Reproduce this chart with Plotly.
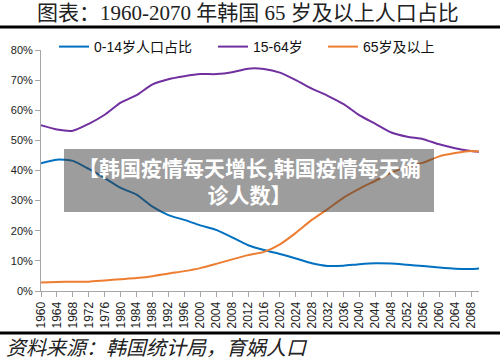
import plotly.graph_objects as go

years = [1960, 1964, 1968, 1972, 1976, 1980, 1984, 1988, 1992, 1996, 2000, 2004, 2008,
         2012, 2016, 2020, 2024, 2028, 2032, 2036, 2040, 2044, 2048, 2052, 2056, 2060,
         2064, 2068, 2070]
age_0_14 = [42.4, 43.6, 43.2, 40.5, 37.5, 34.2, 32.0, 28.0, 25.2, 23.6, 21.8, 20.3, 17.8,
            15.2, 13.6, 12.3, 10.8, 9.2, 8.3, 8.4, 8.9, 9.2, 9.1, 8.7, 8.3, 7.8,
            7.4, 7.3, 7.5]
age_15_64 = [55.0, 53.6, 53.2, 55.5, 58.5, 62.5, 65.0, 68.6, 70.3, 71.3, 72.0, 72.0, 72.6,
             73.8, 73.7, 72.5, 70.0, 67.2, 64.8, 62.0, 58.3, 55.5, 52.6, 51.2, 50.4, 48.7,
             47.4, 46.5, 46.2]
age_65_plus = [2.8, 3.0, 3.1, 3.1, 3.5, 3.9, 4.3, 4.9, 5.8, 6.6, 7.6, 9.0, 10.5,
               11.9, 13.0, 15.5, 19.3, 23.6, 27.2, 31.0, 34.0, 36.6, 39.3, 41.2, 42.6, 44.7,
               45.8, 46.5, 46.3]
series_names = ["0-14岁人口占比", "15-64岁", "65岁及以上"]
x_ticks = list(range(1960, 2069, 4))
y_ticks = [0, 10, 20, 30, 40, 50, 60, 70, 80]

title_text = "图表：1960-2070 年韩国 65 岁及以上人口占比"
source_text = "资料来源：韩国统计局，育娲人口"
overlay_text = "【韩国疫情每天增长,韩国疫情每天确<br>诊人数】"

W, H = 500, 361
ML, MR, MT, MB = 41, 21, 50, 70
PW, PH = W - ML - MR, H - MT - MB

def px(x):
    return (x - ML) / PW

def py(y):
    return (H - MB - y) / PH

colors = ["#0070C0", "#7030A0", "#ED7D31"]
sans = "Liberation Sans, Arial, Noto Sans CJK SC"
legend_ids = ["legend", "legend2", "legend3"]
legend_x = [54, 213, 323]

fig = go.Figure()
for name, vals, c, lid in zip(series_names, [age_0_14, age_15_64, age_65_plus], colors, legend_ids):
    fig.add_trace(go.Scatter(x=years, y=vals, name=name, mode="lines", legend=lid,
                             line=dict(color=c, width=2, shape="spline", smoothing=0.6)))

leg_common = dict(orientation="h", yanchor="middle", xanchor="left",
                  font=dict(family=sans, size=14, color="#111111"),
                  bgcolor="rgba(0,0,0,0)", borderwidth=0)
legends = {}
for lid, lx in zip(legend_ids, legend_x):
    legends[lid] = dict(leg_common, x=px(lx), y=py(47))

fig.update_layout(
    width=W, height=H,
    margin=dict(l=ML, r=MR, t=MT, b=MB, pad=0, autoexpand=False),
    paper_bgcolor="white", plot_bgcolor="white",
    font=dict(family=sans, size=11, color="#333333"),
    showlegend=True,
    xaxis=dict(range=[1960, 2070], tickmode="array", tickvals=x_ticks,
               ticktext=[str(v) for v in x_ticks], tickangle=-90,
               showgrid=False, zeroline=False, showline=True, linecolor="#A6A6A6",
               linewidth=1, ticks="outside", ticklen=5, tickcolor="#A6A6A6",
               tickfont=dict(size=12, color="#222222")),
    yaxis=dict(range=[0, 80], tickmode="array", tickvals=y_ticks,
               ticktext=[f"{v}%" for v in y_ticks],
               showgrid=False, zeroline=False, showline=True, linecolor="#A6A6A6",
               linewidth=1, ticks="outside", ticklen=5, tickcolor="#A6A6A6",
               tickfont=dict(size=11, color="#222222")),
    **legends,
)

shapes = [
    dict(type="line", xref="paper", yref="paper", x0=px(0), x1=px(W), y0=py(27), y1=py(27),
         line=dict(color="black", width=3)),
    dict(type="line", xref="paper", yref="paper", x0=px(0), x1=px(W), y0=py(333), y1=py(333),
         line=dict(color="black", width=3)),
    dict(type="rect", xref="paper", yref="paper", x0=px(64), x1=px(434), y0=py(212), y1=py(149),
         fillcolor="rgba(60,60,60,0.5)", line=dict(width=0), layer="above"),
]
fig.update_layout(shapes=shapes)

fig.add_annotation(text=title_text, xref="paper", yref="paper", x=px(248), y=py(13),
                   xanchor="center", yanchor="middle", showarrow=False,
                   font=dict(family="Liberation Serif, Noto Sans CJK SC", size=21, color="#222222"))
fig.add_annotation(text=source_text, xref="paper", yref="paper", x=px(4), y=py(346),
                   xanchor="left", yanchor="middle", showarrow=False,
                   font=dict(family="Noto Sans CJK SC", size=20, color="#222222", style="italic"))
fig.add_annotation(text=overlay_text, xref="paper", yref="paper", x=px(249), y=py(180),
                   xanchor="center", yanchor="middle", showarrow=False, align="center",
                   font=dict(family="Noto Sans CJK SC", size=21, color="white", weight="bold"))

fig.write_html("out.html", config={"displayModeBar": False},
               post_script="document.body.style.margin='0';")
